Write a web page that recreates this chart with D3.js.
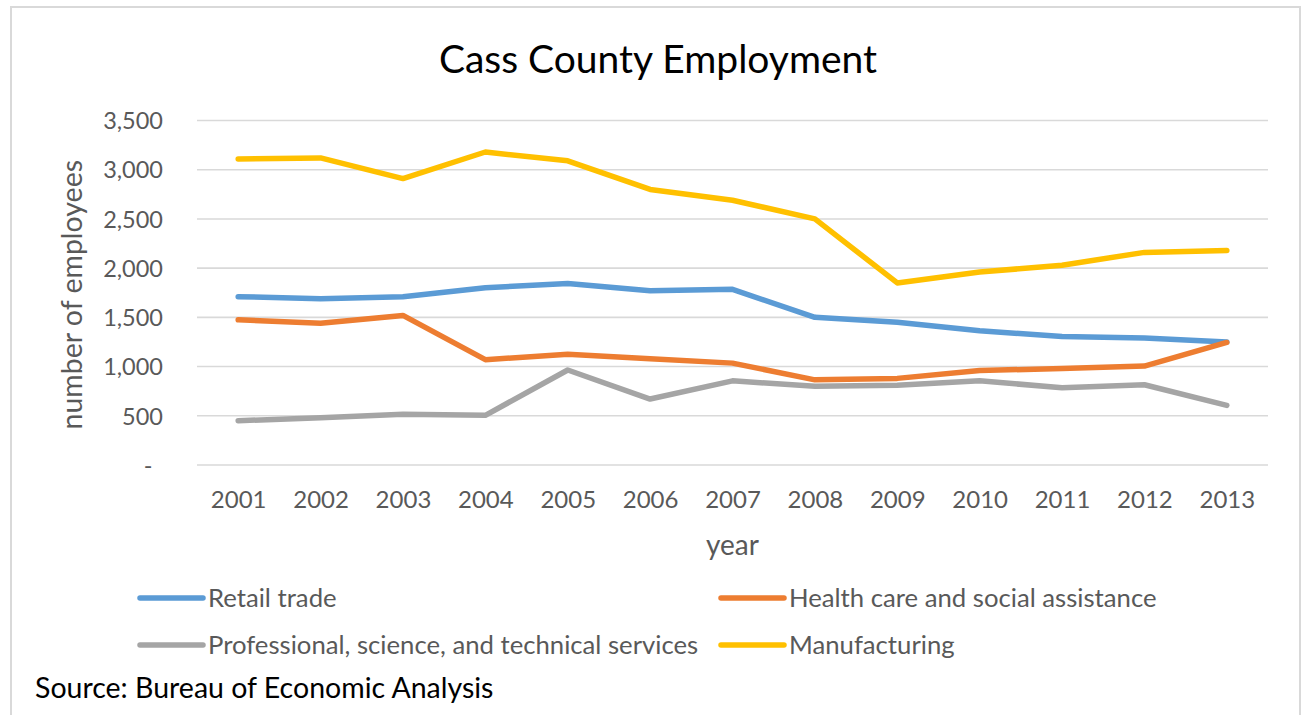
<!DOCTYPE html>
<html>
<head>
<meta charset="utf-8">
<script src="https://cdn.jsdelivr.net/npm/d3@7/dist/d3.min.js"></script>
<style>
  html, body { margin: 0; padding: 0; background: #fff; }
  svg { display: block; font-family: Lato, "Open Sans", sans-serif; }
</style>
</head>
<body>
<svg id="chart" width="1306" height="715"></svg>
<script>
// Cass County employment by industry, 2001–2013
const years = ["2001","2002","2003","2004","2005","2006","2007","2008","2009","2010","2011","2012","2013"];
const seriesNames = ["Retail trade", "Health care and social assistance", "Professional, science, and technical services", "Manufacturing"];
const retailTrade   = [1710, 1690, 1710, 1800, 1845, 1770, 1785, 1500, 1450, 1365, 1305, 1290, 1250];
const healthCare    = [1475, 1440, 1520, 1070, 1125, 1080, 1035, 865, 880, 960, 980, 1005, 1245];
const professional  = [450, 480, 515, 505, 965, 670, 855, 800, 810, 855, 785, 815, 605];
const manufacturing = [3110, 3120, 2910, 3180, 3090, 2800, 2690, 2500, 1850, 1960, 2030, 2160, 2180];
const yTicks = [0, 500, 1000, 1500, 2000, 2500, 3000, 3500];
const seriesColors = ["#5B9BD5", "#ED7D31", "#A5A5A5", "#FFC000"];

const seriesValues = [retailTrade, healthCare, professional, manufacturing];
const series = seriesNames.map((name, i) => ({ name, color: seriesColors[i], values: seriesValues[i] }));

const svg = d3.select("#chart");
const plot = { left: 197, right: 1268, top: 120.5, bottom: 465 };

// chart-area frame
svg.append("rect")
  .attr("x", 11).attr("y", 7)
  .attr("width", 1289).attr("height", 720)
  .attr("fill", "#fff").attr("stroke", "#D9D9D9").attr("stroke-width", 2);

const x = d3.scalePoint().domain(years).range([plot.left, plot.right]).padding(0.5);
const y = d3.scaleLinear().domain([0, 3500]).range([plot.bottom, plot.top]);

// title
svg.append("text")
  .attr("x", 658).attr("y", 73)
  .attr("text-anchor", "middle")
  .attr("font-size", 39)
  .attr("fill", "#000")
  .text("Cass County Employment");

// horizontal gridlines
svg.append("g")
  .selectAll("line")
  .data(yTicks)
  .join("line")
  .attr("x1", plot.left).attr("x2", plot.right)
  .attr("y1", d => y(d)).attr("y2", d => y(d))
  .attr("stroke", "#D9D9D9").attr("stroke-width", 1.6);

// y axis labels (accounting format: zero shown as a dash)
const fmt = d3.format(",");
const yAxis = d3.axisLeft(y)
  .tickValues(yTicks)
  .tickSize(0)
  .tickPadding(34)
  .tickFormat(d => d === 0 ? "-" : fmt(d));
const yg = svg.append("g")
  .attr("transform", `translate(${plot.left},0)`)
  .call(yAxis);
yg.select(".domain").remove();
yg.selectAll("text")
  .attr("font-family", "Lato, sans-serif")
  .attr("font-size", 23.5)
  .attr("fill", "#595959")
  .attr("dy", "0.35em");
yg.selectAll(".tick").filter(d => d === 0).select("text")
  .attr("text-anchor", "middle")
  .attr("x", 148 - plot.left);

// x axis labels
const xAxis = d3.axisBottom(x).tickSize(0).tickPadding(26);
const xg = svg.append("g")
  .attr("transform", `translate(0,${plot.bottom})`)
  .call(xAxis);
xg.select(".domain").remove();
xg.selectAll("text")
  .attr("font-family", "Lato, sans-serif")
  .attr("font-size", 24)
  .attr("fill", "#595959");

// axis titles
svg.append("text")
  .attr("x", (plot.left + plot.right) / 2).attr("y", 555)
  .attr("text-anchor", "middle")
  .attr("font-size", 28)
  .attr("fill", "#595959")
  .text("year");

svg.append("text")
  .attr("transform", `translate(82,${(plot.top + plot.bottom) / 2 + 2}) rotate(-90)`)
  .attr("text-anchor", "middle")
  .attr("font-size", 28.5)
  .attr("fill", "#595959")
  .text("number of employees");

// series lines
const line = d3.line()
  .x((d, i) => x(years[i]))
  .y(d => y(d));

svg.append("g")
  .selectAll("path")
  .data(series)
  .join("path")
  .attr("d", d => line(d.values))
  .attr("fill", "none")
  .attr("stroke", d => d.color)
  .attr("stroke-width", 5.5)
  .attr("stroke-linejoin", "round")
  .attr("stroke-linecap", "round");

// legend: two columns, two rows
const legendPos = [
  { x: 140, y: 598 },
  { x: 721, y: 598 },
  { x: 140, y: 645 },
  { x: 721, y: 645 }
];
const lg = svg.append("g")
  .selectAll("g")
  .data(series)
  .join("g")
  .attr("transform", (d, i) => `translate(${legendPos[i].x},${legendPos[i].y})`);
lg.append("line")
  .attr("x1", 0).attr("x2", 63)
  .attr("stroke", d => d.color)
  .attr("stroke-width", 5.5)
  .attr("stroke-linecap", "round");
lg.append("text")
  .attr("x", 68).attr("dy", "0.35em")
  .attr("font-size", 25.7)
  .attr("fill", "#595959")
  .text(d => d.name);

// source note
svg.append("text")
  .attr("x", 35).attr("y", 698)
  .attr("font-size", 28.5)
  .attr("fill", "#000")
  .text("Source: Bureau of Economic Analysis");
</script>
</body>
</html>
